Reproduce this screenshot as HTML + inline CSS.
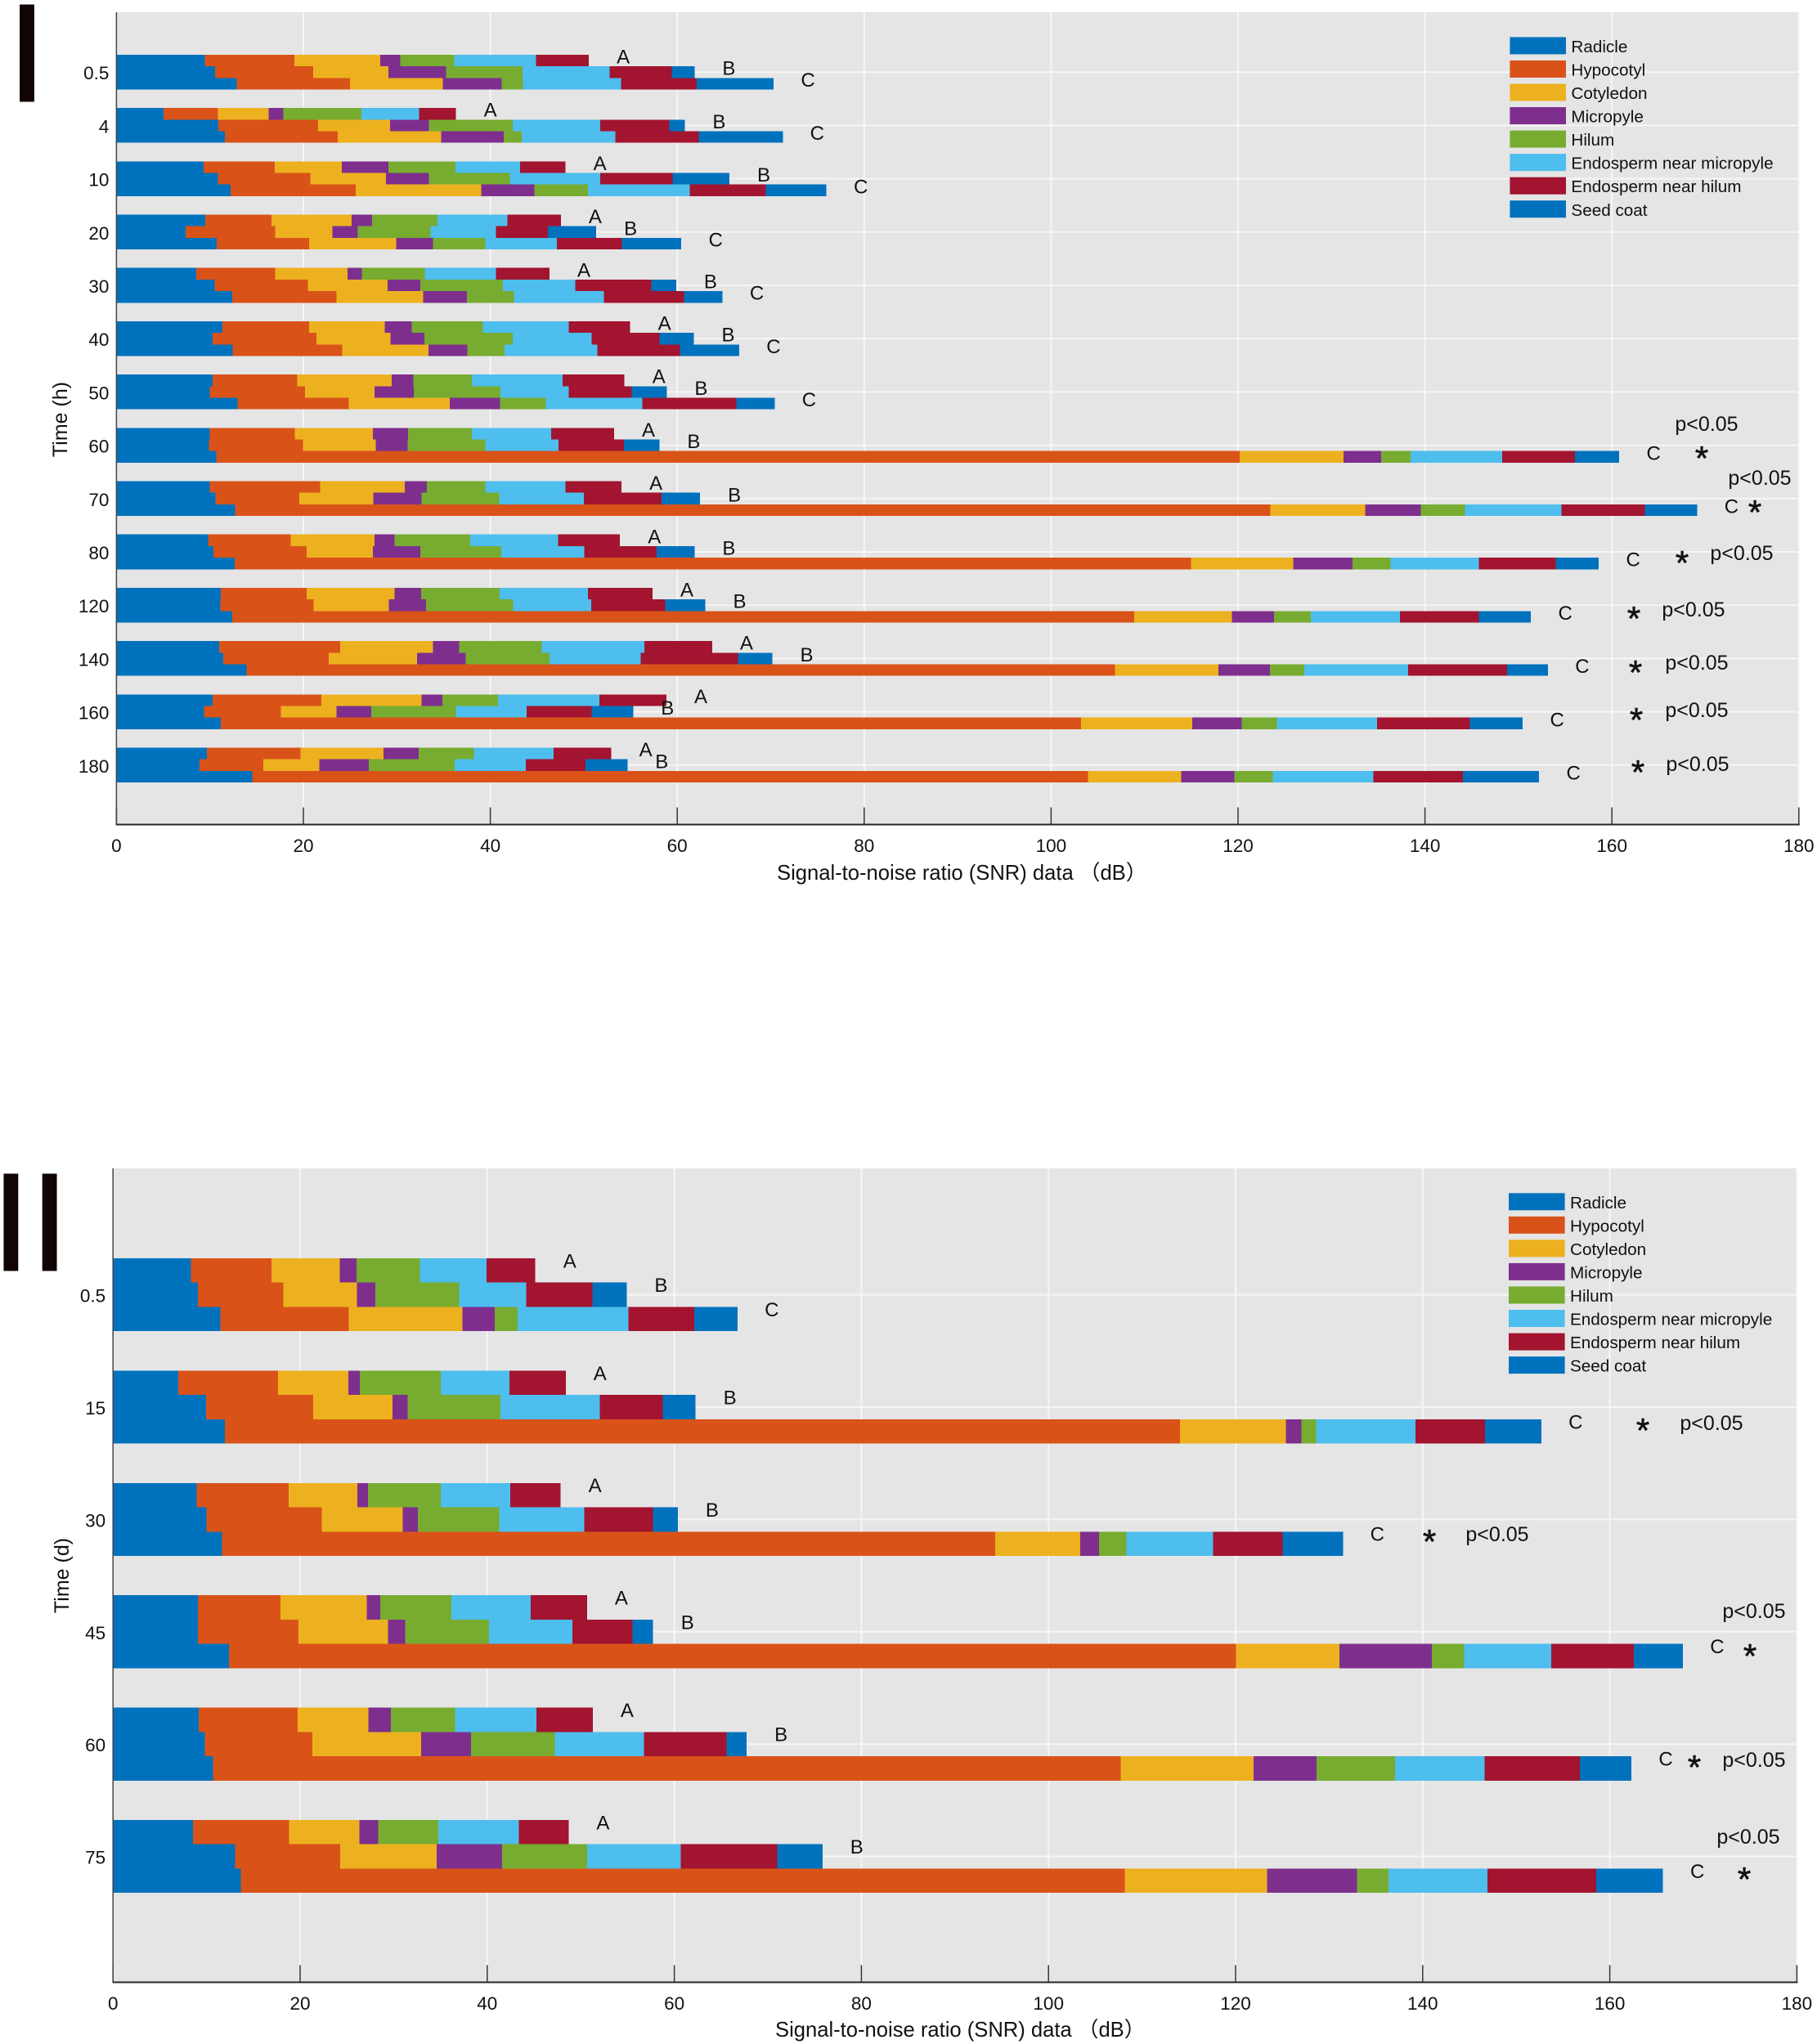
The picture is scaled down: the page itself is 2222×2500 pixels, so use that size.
<!DOCTYPE html>
<html lang="en">
<head>
<meta charset="utf-8">
<title>Signal-to-noise ratio by seed tissue over time</title>
<style>
html,body{margin:0;padding:0;background:#fff;}
svg{display:block;}
text{font-family:"Liberation Sans","Noto Sans CJK SC",sans-serif;fill:#111;}
.p{font-size:25px;text-anchor:middle;}
.s{font-size:42px;text-anchor:middle;stroke:#111;stroke-width:0.6px;}
</style>
</head>
<body>
<svg id="figure" xmlns="http://www.w3.org/2000/svg" width="2222" height="2500" viewBox="0 0 2222 2500">
  <rect x="0" y="0" width="2222" height="2500" fill="#fff"/>
  <g id="panelI"></g>
  <g id="panelII"></g>

  <text x="33" y="123.5" font-size="170" text-anchor="middle" style="fill:#120404;stroke:#120404;stroke-width:2px">I</text>
  <text x="37" y="1553.5" font-size="170" text-anchor="middle" style="fill:#120404;stroke:#120404;stroke-width:2px">II</text>

  <g>
    <text class="p" x="2087" y="527">p&lt;0.05</text>
    <text class="s" x="2081" y="575">*</text>
    <text class="p" x="2152" y="593">p&lt;0.05</text>
    <text class="s" x="2146" y="641">*</text>
    <text class="p" x="2130" y="685">p&lt;0.05</text>
    <text class="s" x="2057" y="703">*</text>
    <text class="p" x="2071" y="754">p&lt;0.05</text>
    <text class="s" x="1998" y="771">*</text>
    <text class="p" x="2075" y="819">p&lt;0.05</text>
    <text class="s" x="2000" y="837">*</text>
    <text class="p" x="2075" y="877">p&lt;0.05</text>
    <text class="s" x="2001" y="895">*</text>
    <text class="p" x="2076" y="943">p&lt;0.05</text>
    <text class="s" x="2003" y="959">*</text>
  </g>
  <g>
    <text class="p" x="2093" y="1749">p&lt;0.05</text>
    <text class="s" x="2009" y="1764">*</text>
    <text class="p" x="1831" y="1885">p&lt;0.05</text>
    <text class="s" x="1748" y="1900">*</text>
    <text class="p" x="2145" y="1979">p&lt;0.05</text>
    <text class="s" x="2140" y="2040">*</text>
    <text class="p" x="2145" y="2161">p&lt;0.05</text>
    <text class="s" x="2072" y="2176">*</text>
    <text class="p" x="2138" y="2255">p&lt;0.05</text>
    <text class="s" x="2133" y="2313">*</text>
  </g>
</svg>

<script>
// Shared labels and axis ticks
const seriesNames = ['Radicle','Hypocotyl','Cotyledon','Micropyle','Hilum','Endosperm near micropyle','Endosperm near hilum','Seed coat'];
const seriesColors = ['#0072BD','#D95319','#EDB120','#7E2F8E','#77AC30','#4DBEEE','#A2142F','#0072BD'];
const xTickLabels = [0,20,40,60,80,100,120,140,160,180];
const groupLabels = ['A','B','C'];

// Panel I categories (hours)
const categoriesI = ['0.5','4','10','20','30','40','50','60','70','80','120','140','160','180'];

// Panel I values: one row per sample group (A, B, C), one value per tissue in dB
const hours0_5 = [[9.45,9.57,9.20,2.15,5.77,8.77,5.64,0],[10.55,10.49,8.04,6.20,8.16,9.33,6.63,2.45],[12.88,12.09,9.94,6.32,2.27,10.49,8.10,8.22]];
const hours4 = [[5.03,5.83,5.40,1.60,8.34,6.20,3.93,0],[10.92,10.67,7.67,4.17,8.96,9.39,7.36,1.66],[11.60,12.09,11.04,6.69,1.96,10.00,8.90,9.02]];
const hours10 = [[9.33,7.61,7.18,4.97,7.18,6.93,4.85,0],[10.86,9.88,8.10,4.60,8.65,9.69,7.73,6.07],[12.21,13.37,13.44,5.71,5.71,10.92,8.10,6.50]];
const hours20 = [[9.51,7.06,8.59,2.21,6.99,7.48,5.71,0],[7.42,9.57,6.13,2.70,7.79,6.99,5.58,5.15],[10.74,9.88,9.33,3.93,5.58,7.67,6.93,6.38]];
const hours30 = [[8.53,8.47,7.73,1.53,6.75,7.61,5.71,0],[10.49,10.00,8.53,3.50,8.83,7.73,8.16,2.64],[12.39,11.17,9.26,4.66,5.03,9.63,8.59,4.11]];
const hours40 = [[11.35,9.26,8.10,2.88,7.61,9.20,6.56,0],[10.31,11.10,7.91,3.62,9.45,8.47,7.24,3.68],[12.45,11.72,9.20,4.17,3.99,9.94,8.83,6.32]];
const hours50 = [[10.31,9.02,10.12,2.33,6.26,9.69,6.63,0],[10.00,10.18,7.42,4.23,9.26,7.30,6.75,3.74],[12.94,11.90,10.80,5.40,4.91,10.31,10.06,4.11]];
const hours60 = [[10.00,9.08,8.34,3.80,6.81,8.47,6.75,0],[9.88,10.06,7.79,3.44,8.28,7.85,6.99,3.80],[10.67,109.49,11.14,4.01,3.13,9.83,7.76,4.76]];
const hours70 = [[10.00,11.78,9.08,2.33,6.26,8.59,6.01,0],[10.61,8.96,7.91,5.15,8.34,9.02,8.34,4.11],[12.70,110.77,10.15,5.95,4.69,10.33,8.95,5.58]];
const hours80 = [[9.82,8.83,8.96,2.15,8.10,9.39,6.63,0],[10.37,10.00,7.06,5.09,8.65,8.90,7.73,4.05],[12.64,102.32,10.96,6.32,4.07,9.45,8.21,4.63]];
const hours120 = [[11.17,9.20,9.39,2.82,8.40,9.45,6.93,0],[11.10,10.00,8.04,3.99,9.33,8.34,7.91,4.29],[12.39,96.50,10.45,4.51,3.94,9.52,8.45,5.58]];
const hours140 = [[10.98,12.94,9.94,2.82,8.83,10.98,7.24,0],[11.41,11.29,9.45,5.21,8.96,9.75,10.43,3.68],[13.93,92.89,11.08,5.51,3.69,11.09,10.58,4.38]];
const hours160 = [[10.31,11.60,10.74,2.21,5.95,10.86,7.18,0],[9.39,8.22,5.95,3.68,9.08,7.55,6.99,4.42],[11.17,92.02,11.90,5.32,3.75,10.71,9.95,5.64]];
const hours180 = [[9.69,10.00,8.90,3.74,5.89,8.53,6.20,0],[8.90,6.81,6.01,5.28,9.20,7.61,6.38,4.48],[14.54,89.40,9.96,5.69,4.14,10.77,9.57,8.14]];

// Panel II categories (days)
const categoriesII = ['0.5','15','30','45','60','75'];

// Panel II values: one row per sample group (A, B, C), one value per tissue in dB
const days0_5 = [[8.34,8.59,7.30,1.78,6.81,7.12,5.21,0],[9.08,9.14,7.85,1.96,8.96,7.18,7.06,3.68],[11.47,13.74,12.15,3.44,2.45,11.84,7.06,4.60]];
const days15 = [[6.99,10.67,7.48,1.23,8.65,7.36,6.01,0],[9.94,11.47,8.47,1.60,9.94,10.61,6.75,3.50],[11.96,102.08,11.32,1.68,1.57,10.63,7.44,6.00]];
const days30 = [[8.96,9.82,7.36,1.10,7.79,7.42,5.40,0],[10.00,12.33,8.65,1.60,8.71,9.08,7.36,2.64],[11.66,82.62,9.13,2.00,2.94,9.25,7.44,6.44]];
const days45 = [[9.08,8.83,9.20,1.47,7.61,8.47,6.01,0],[9.08,10.74,9.57,1.84,8.96,8.90,6.44,2.21],[12.39,107.65,11.06,9.88,3.45,9.31,8.82,5.25]];
const days60 = [[9.14,10.61,7.55,2.39,6.87,8.71,6.01,0],[9.82,11.47,11.66,5.34,8.96,9.51,8.83,2.15],[10.67,97.05,14.20,6.75,8.38,9.57,10.19,5.50]];
const days75 = [[8.53,10.31,7.48,2.02,6.44,8.59,5.34,0],[13.07,11.23,10.31,6.99,9.08,10.00,10.31,4.85],[13.68,94.48,15.20,9.63,3.37,10.57,11.63,7.13]];

const valuesI = [hours0_5,hours4,hours10,hours20,hours30,hours40,hours50,hours60,hours70,hours80,hours120,hours140,hours160,hours180];
const valuesII = [days0_5,days15,days30,days45,days60,days75];

const SVG_NS = 'http://www.w3.org/2000/svg';

function make(tag, attrs, parent, content) {
  const node = document.createElementNS(SVG_NS, tag);
  for (const key in attrs) node.setAttribute(key, attrs[key]);
  if (content !== undefined) node.textContent = content;
  parent.appendChild(node);
  return node;
}

function drawPanel(root, layout, categories, values) {
  const xScale = v => layout.x0 + v * layout.pxPerDb;
  const yScale = i => layout.y0 + i * layout.rowStep;

  const bg = make('rect', {x:layout.x0, y:layout.top, width:xScale(180)-layout.x0, height:layout.bottom-layout.top, fill:'#E5E5E5'}, root);
  
  

  xTickLabels.forEach(t => {
    if (t === 0) return;
    const g = make('line', {x1:xScale(t), x2:xScale(t), y1:layout.top, y2:layout.bottom, stroke:'#F6F6F6', 'stroke-width':2}, root);
    
    
  });
  categories.forEach((c, i) => {
    const g = make('line', {x1:layout.x0, x2:xScale(180), y1:yScale(i), y2:yScale(i), stroke:'#F6F6F6', 'stroke-width':2}, root);
    
    
  });

  categories.forEach((c, i) => {
    values[i].forEach((row, j) => {
      const barTop = yScale(i) + (j - 1.5) * layout.barHeight;
      let running = 0;
      row.forEach((v, s) => {
        if (v > 0) {
          const seg = make('rect', {x:xScale(running), y:barTop, width:xScale(running + v) - xScale(running), height:layout.barHeight, fill:seriesColors[s], 'shape-rendering':'crispEdges'}, root);
          
          
        }
        running += v;
      });
      const label = make('text', {x:xScale(running) + 42, y:barTop + layout.barHeight / 2 + layout.labelShift + 8.5, 'font-size':24, 'text-anchor':'middle'}, root, groupLabels[j]);
      
      
    });

    const yt = make('text', {x:layout.x0 - 9, y:yScale(i) + 9, 'font-size':22.5, 'text-anchor':'end'}, root, c);
    
    
  });

  xTickLabels.forEach(t => {
    const tick = make('line', {x1:xScale(t), x2:xScale(t), y1:layout.bottom - 21, y2:layout.bottom, stroke:'#333', 'stroke-width':1.5}, root);
    
    
    const lab = make('text', {x:xScale(t), y:layout.tickBase, 'font-size':22.5, 'text-anchor':'middle'}, root, String(t));
    
    
  });

  const yAxis = make('line', {x1:layout.x0, x2:layout.x0, y1:layout.top, y2:layout.bottom + 1, stroke:'#444', 'stroke-width':1.5}, root);
  
  
  const xAxis = make('line', {x1:layout.x0, x2:xScale(180) + 1, y1:layout.bottom, y2:layout.bottom, stroke:'#262626', 'stroke-width':2}, root);
  
  

  const xTitle = make('text', {x:layout.xTitleX, y:layout.xTitleBase, 'font-size':25.6}, root, 'Signal-to-noise ratio (SNR) data （dB）');
  
  
  const yTitle = make('text', {'font-size':25, 'text-anchor':'middle', transform:'translate(' + layout.yTitleX + ' ' + layout.yTitleY + ') rotate(-90)'}, root, layout.yTitle);
  
  

  seriesNames.forEach((name, k) => {
    const top = layout.legendY + k * 28.55;
    const sw = make('rect', {x:layout.legendX, y:top, width:68.6, height:21, fill:seriesColors[k]}, root);
    
    
    const tx = make('text', {x:layout.legendX + 75, y:top + 18.5, 'font-size':20.7}, root, name);
    
    
  });
}

drawPanel(document.getElementById('panelI'), {
  x0:142.4, pxPerDb:11.43, top:15, bottom:1008.5, y0:88.2, rowStep:65.2, barHeight:14.2, labelShift:-5,
  tickBase:1042, xTitleX:950, xTitleBase:1076, yTitleX:82, yTitleY:513, yTitle:'Time (h)', legendX:1846.4, legendY:45.4
}, categoriesI, valuesI);

drawPanel(document.getElementById('panelII'), {
  x0:138.2, pxPerDb:11.44, top:1429, bottom:2424.5, y0:1583.6, rowStep:137.4, barHeight:29.75, labelShift:-12,
  tickBase:2458, xTitleX:948, xTitleBase:2491, yTitleX:84, yTitleY:1927, yTitle:'Time (d)', legendX:1845, legendY:1459.3
}, categoriesII, valuesII);
</script>
</body>
</html>
